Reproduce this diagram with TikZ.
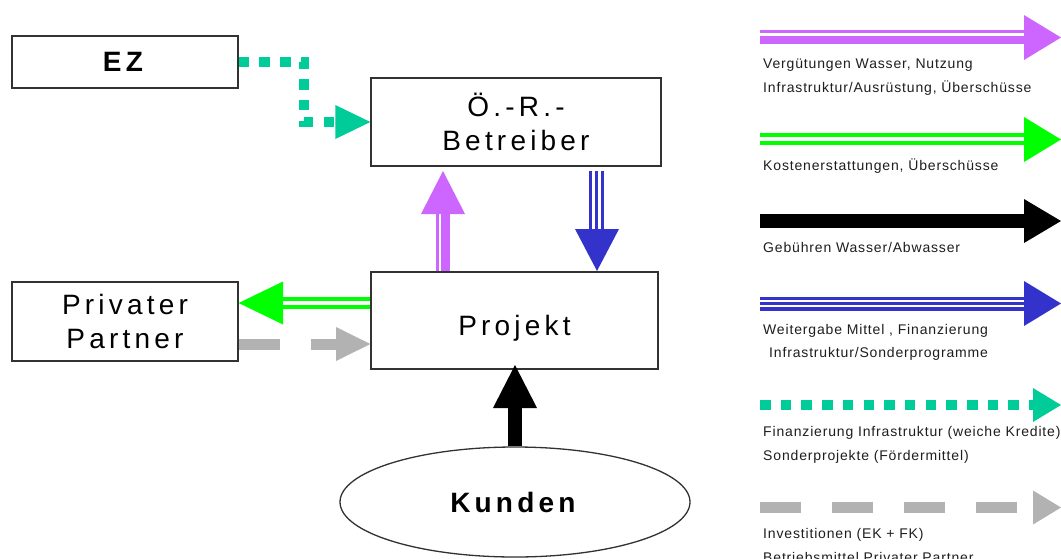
\documentclass[tikz,border=0pt]{standalone}
\usepackage{fontspec}
\setmainfont{Liberation Sans}
\newfontfamily\bigf[LetterSpace=15]{Liberation Sans}
\newfontfamily\legf[LetterSpace=6]{Liberation Sans}
\usetikzlibrary{calc,shapes.geometric}
\definecolor{cviolet}{RGB}{204,102,255}
\definecolor{cgreen}{RGB}{0,255,0}
\definecolor{cblue}{RGB}{51,51,204}
\definecolor{cteal}{RGB}{0,204,153}
\definecolor{cgrey}{RGB}{178,178,178}
\definecolor{ctext}{RGB}{30,30,30}
\definecolor{cframe}{RGB}{50,50,50}
\begin{document}
\begin{tikzpicture}[x=1pt,y=-1pt,
  box/.style={draw=cframe,line width=1.3pt,inner sep=0pt,align=center,
    font=\bigf\fontsize{28}{34}\selectfont},
  leg/.style={anchor=base west,inner sep=0pt,text=ctext,
    font=\legf\fontsize{14}{17}\selectfont},
  tealdots/.style={cteal,line width=10pt,dash pattern=on 10.5pt off 10.2pt},
  greydash/.style={cgrey,line width=11pt,dash pattern=on 41pt off 31pt},
]
\useasboundingbox (0,0) rectangle (1061,558);
\fill[white] (0,0) rectangle (1061,558);

% ---------- boxes ----------
\node[box,minimum width=226pt,minimum height=52pt] (ez) at (125,62) {\textbf{EZ}};
\node[box,minimum width=290pt,minimum height=88pt] (orb) at (516,122) {Ö.-R.-\\Betreiber};
\node[box,minimum width=287pt,minimum height=97pt,text height=29pt,text depth=0pt] (proj) at (514.5,320.5) {Projekt};
\node[box,minimum width=226pt,minimum height=79pt] (pp) at (125,321.5) {Privater\\Partner};
\node[box,ellipse,minimum width=350pt,minimum height=110pt] (kun) at (515,502) {\textbf{Kunden}};

% ---------- EZ -> Betreiber (teal dotted) ----------
\coordinate (tcorner) at ($(orb.west)+(-66,0)$);
\coordinate (tbase) at ($(orb.west)+(-35,0)$);
\draw[tealdots] (ez.east) -| (tcorner) -- (tbase);
\fill[cteal] (orb.west) -- ($(tbase)+(0,-17)$) -- ($(tbase)+(0,17)$) -- cycle;

% ---------- Projekt -> Betreiber (violet) ----------
\coordinate (va) at (437.5,0);
\coordinate (vb) at (445.5,0);
\coordinate (vbase) at (443,214);
\coordinate (vtip) at (443,171);
\draw[cviolet,line width=3pt] (va |- proj.north) -- (va |- vbase);
\draw[cviolet,line width=9pt] (vb |- proj.north) -- (vb |- vbase);
\fill[cviolet] (vtip) -- ($(vbase)+(-22,0)$) -- ($(vbase)+(22,0)$) -- cycle;

% ---------- Betreiber -> Projekt (blue) ----------
\coordinate (bstart) at ($(orb.south)+(0,4)$);
\coordinate (bbase) at (597,229);
\coordinate (btip) at (597,271);
\foreach \bx in {590.5,596,602}{
  \draw[cblue,line width=3pt] (\bx,0 |- bstart) -- (\bx,0 |- bbase);}
\fill[cblue] (btip) -- ($(bbase)+(-22,0)$) -- ($(bbase)+(22,0)$) -- cycle;

% ---------- Projekt -> Privater Partner (green) ----------
\coordinate (gbase) at (283,303);
\coordinate (gtip) at (pp.east |- gbase);
\draw[cgreen,line width=4pt] (proj.west |- 0,299) -- (gbase |- 0,299);
\draw[cgreen,line width=4pt] (proj.west |- 0,307) -- (gbase |- 0,307);
\fill[cgreen] (gtip) -- ($(gbase)+(0,-21.5)$) -- ($(gbase)+(0,21.5)$) -- cycle;

% ---------- Privater Partner -> Projekt (grey dashed) ----------
\coordinate (ybase) at (336,344);
\coordinate (ytip) at (proj.west |- ybase);
\draw[greydash] (pp.east |- ybase) -- (ybase);
\fill[cgrey] (ytip) -- ($(ybase)+(0,-17)$) -- ($(ybase)+(0,17)$) -- cycle;

% ---------- Kunden -> Projekt (black) ----------
\coordinate (kbase) at (515,408);
\coordinate (ktip) at (515,365);
\draw[black,line width=14pt] (kun.north) -- (kbase);
\fill[black] (ktip) -- ($(kbase)+(-22,0)$) -- ($(kbase)+(22,0)$) -- cycle;

% ---------- legend ----------
% violet
\coordinate (l1s) at (760,37.5); \coordinate (l1b) at (1024,37.5); \coordinate (l1t) at (1061,37.5);
\draw[cviolet,line width=3pt] ($(l1s)+(0,-6)$) -- ($(l1b)+(0,-6)$);
\draw[cviolet,line width=8pt] ($(l1s)+(0,2)$) -- ($(l1b)+(0,2)$);
\fill[cviolet] (l1t) -- ($(l1b)+(0,-22.5)$) -- ($(l1b)+(0,22.5)$) -- cycle;
\node[leg] (t1a) at (763,68) {Vergütungen Wasser, Nutzung};
\node[leg] (t1b) at (763,92) {Infrastruktur/Ausrüstung, Überschüsse};
% green
\coordinate (l2s) at (760,139.5); \coordinate (l2b) at (1024,139.5); \coordinate (l2t) at (1061,139.5);
\draw[cgreen,line width=4pt] ($(l2s)+(0,-4.5)$) -- ($(l2b)+(0,-4.5)$);
\draw[cgreen,line width=4pt] ($(l2s)+(0,3.5)$) -- ($(l2b)+(0,3.5)$);
\fill[cgreen] (l2t) -- ($(l2b)+(0,-22.5)$) -- ($(l2b)+(0,22.5)$) -- cycle;
\node[leg] (t2) at (763,170) {Kostenerstattungen, Überschüsse};
% black
\coordinate (l3s) at (760,221); \coordinate (l3b) at (1024,221); \coordinate (l3t) at (1061,221);
\draw[black,line width=14pt] (l3s) -- (l3b);
\fill[black] (l3t) -- ($(l3b)+(0,-22)$) -- ($(l3b)+(0,22)$) -- cycle;
\node[leg] (t3) at (763,252) {Gebühren Wasser/Abwasser};
% blue
\coordinate (l4s) at (760,303.5); \coordinate (l4b) at (1024,303.5); \coordinate (l4t) at (1061,303.5);
\draw[cblue,line width=3pt] ($(l4s)+(0,-5)$) -- ($(l4b)+(0,-5)$);
\draw[cblue,line width=3pt] ($(l4s)+(0,0)$) -- ($(l4b)+(0,0)$);
\draw[cblue,line width=3.5pt] ($(l4s)+(0,5.5)$) -- ($(l4b)+(0,5.5)$);
\fill[cblue] (l4t) -- ($(l4b)+(0,-22.5)$) -- ($(l4b)+(0,22.5)$) -- cycle;
\node[leg] (t4a) at (763,334) {Weitergabe Mittel , Finanzierung};
\node[leg] (t4b) at (769,357) {Infrastruktur/Sonderprogramme};
% teal
\coordinate (l5s) at (760,405); \coordinate (l5b) at (1033,405); \coordinate (l5t) at (1061,405);
\draw[tealdots] (l5s) -- (l5b);
\fill[cteal] (l5t) -- ($(l5b)+(0,-17)$) -- ($(l5b)+(0,17)$) -- cycle;
\node[leg] (t5a) at (763,436) {Finanzierung Infrastruktur (weiche Kredite)};
\node[leg] (t5b) at (763,460) {Sonderprojekte (Fördermittel)};
% grey
\coordinate (l6s) at (760,507.5); \coordinate (l6b) at (1033,507.5); \coordinate (l6t) at (1061,507.5);
\draw[greydash] (l6s) -- (l6b);
\fill[cgrey] (l6t) -- ($(l6b)+(0,-17)$) -- ($(l6b)+(0,17)$) -- cycle;
\node[leg] (t6a) at (763,538) {Investitionen (EK + FK)};
\node[leg] (t6b) at (763,562) {Betriebsmittel Privater Partner};
\end{tikzpicture}
\end{document}
